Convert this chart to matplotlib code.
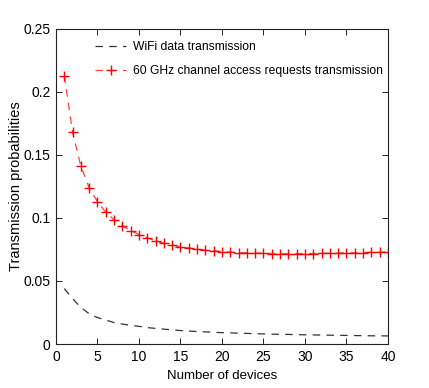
import matplotlib
matplotlib.use("Agg")
from matplotlib import pyplot as plt

devices = list(range(1, 41))

wifi = [0.044, 0.036, 0.029, 0.024, 0.021, 0.019, 0.017, 0.0158, 0.0148, 0.014,
        0.013, 0.0124, 0.0118, 0.0112, 0.0107, 0.0103, 0.0099, 0.0096, 0.0093, 0.009,
        0.0088, 0.0086, 0.0084, 0.0082, 0.0080, 0.0078, 0.0077, 0.0076, 0.0074, 0.0073,
        0.0072, 0.0071, 0.0070, 0.0069, 0.0068, 0.0067, 0.0066, 0.0065, 0.0065, 0.0064]

ghz60 = [0.213, 0.168, 0.141, 0.124, 0.113, 0.1046, 0.0985, 0.0937, 0.090, 0.0869,
         0.0842, 0.0818, 0.080, 0.0785, 0.0772, 0.0762, 0.0752, 0.0744, 0.0739, 0.0734,
         0.0729, 0.0726, 0.0723, 0.0721, 0.0720, 0.0718, 0.0716, 0.0716, 0.0717, 0.0717,
         0.0718, 0.0719, 0.0720, 0.0722, 0.0723, 0.0724, 0.0726, 0.0727, 0.0728, 0.0730]

xticks = [0, 5, 10, 15, 20, 25, 30, 35, 40]
yticks = [0, 0.05, 0.1, 0.15, 0.2, 0.25]
yticklabels = ["0", "0.05", "0.1", "0.15", "0.2", "0.25"]

plt.rcParams['font.family'] = ['Liberation Sans', 'DejaVu Sans']

fig = plt.figure(figsize=(4.29, 3.88), dpi=100)
ax = fig.add_axes([0.1305, 0.1134, 0.7739, 0.8119])

ax.plot(devices, wifi, linestyle=(0, (6, 5)), color="#333333", lw=0.9,
        label="WiFi data transmission")
ax.plot(devices, ghz60, linestyle=(0, (6, 5)), color="#ff4040", lw=0.9,
        marker="+", markersize=7, markeredgewidth=1.0, markeredgecolor="#ff0000",
        label="60 GHz channel access requests transmission")

ax.set_xlim(0, 40)
ax.set_ylim(0, 0.25)
ax.set_xticks(xticks)
ax.set_yticks(yticks)
ax.set_yticklabels(yticklabels)
ax.tick_params(direction="in", length=4, width=0.6, top=True, right=True,
               labelsize=10, pad=4)
for s in ax.spines.values():
    s.set_linewidth(0.8)
    s.set_color("#222222")

ax.set_xlabel("Number of devices", fontsize=9.5)
ax.set_ylabel("Transmission probabilities", fontsize=10.5)
ax.xaxis.set_label_coords(0.5, -0.083)
ax.yaxis.set_label_coords(-0.10, 0.5)

ax.legend(loc="upper left", bbox_to_anchor=(0.085, 0.995), frameon=False,
          fontsize=8.7, handlelength=2.6, handletextpad=0.5, labelspacing=0.95,
          numpoints=1)

fig.savefig("out.png", dpi=100)
